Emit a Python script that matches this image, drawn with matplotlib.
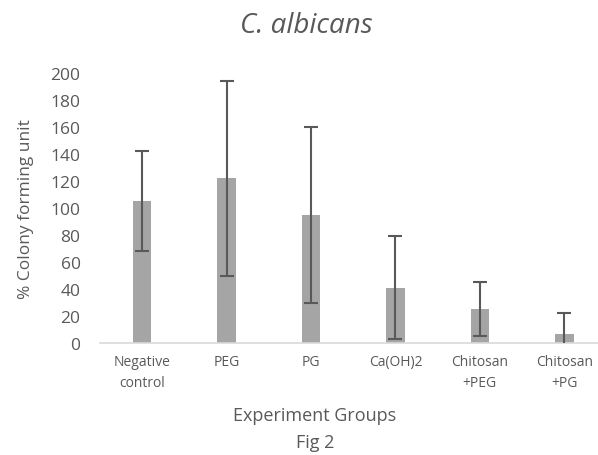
import numpy as np
import matplotlib.pyplot as plt

# values
groups = ["Negative\ncontrol", "PEG", "PG", "Ca(OH)2", "Chitosan\n+PEG", "Chitosan\n+PG"]
cfu = [105, 122, 95, 41, 25, 7]
err = [37, 72, 65, 38, 20, 15]
yticks = [0, 20, 40, 60, 80, 100, 120, 140, 160, 180, 200]

txt = "#595959"
plt.rcParams['font.family'] = ['Open Sans', 'DejaVu Sans']

fig = plt.figure(figsize=(5.98, 4.56), dpi=100)
ax = fig.add_axes([100 / 598, 1 - 344 / 456, 498 / 598, 270 / 456])

x = np.arange(len(groups))
ax.bar(x, cfu, width=0.22, color="#A5A5A5", zorder=2)
ax.errorbar(x, cfu, yerr=err, fmt="none", ecolor=txt, elinewidth=1.5,
            capsize=5, capthick=1.5, zorder=3)

ax.set_xlim(-0.5, 5.4)
ax.set_ylim(0, 200)
ax.set_yticks(yticks)
ax.set_xticks(x)
ax.set_xticklabels(groups, fontsize=10, color=txt, linespacing=1.5)
ax.tick_params(axis="y", length=0, labelsize=12.5, labelcolor=txt, pad=14)
ax.tick_params(axis="x", length=0, pad=8)

for s in ["top", "right", "left"]:
    ax.spines[s].set_visible(False)
ax.spines["bottom"].set_color("#D9D9D9")
ax.spines["bottom"].set_linewidth(1.2)

ax.set_ylabel("% Colony forming unit", fontsize=12.5, color=txt)
ax.yaxis.set_label_coords(-(100 - 34) / 498, 0.5)
fig.text(306 / 598, 1 - 33 / 456, "C. albicans", ha="center", va="baseline",
         fontsize=20, style="italic", color=txt)
fig.text(315 / 598, 1 - 421 / 456, "Experiment Groups", ha="center", va="baseline",
         fontsize=13, color=txt)
fig.text(315 / 598, 1 - 448 / 456, "Fig 2", ha="center", va="baseline",
         fontsize=13, color=txt)

fig.savefig("out.png", dpi=100)
